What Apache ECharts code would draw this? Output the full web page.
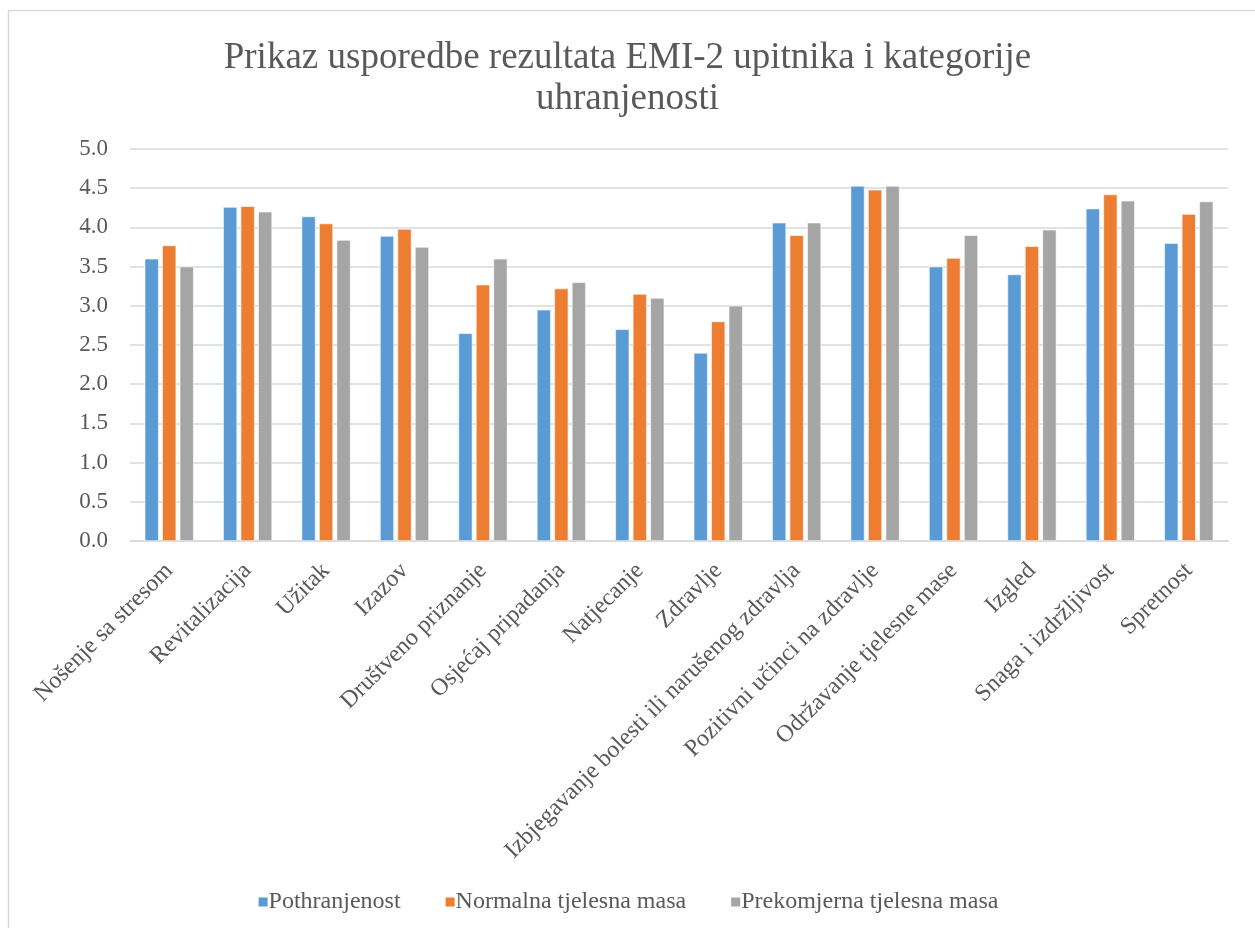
<!DOCTYPE html>
<html>
<head>
<meta charset="utf-8">
<script src="https://cdn.jsdelivr.net/npm/echarts@6/dist/echarts.min.js"></script>
<style>
html,body{margin:0;padding:0;background:#fff;}
#c{width:1255px;height:928px;}
</style>
</head>
<body>
<div id="c"></div>
<script>
const titleText = 'Prikaz usporedbe rezultata EMI-2 upitnika i kategorije\nuhranjenosti';
const categories = ['Nošenje sa stresom','Revitalizacija','Užitak','Izazov','Društveno priznanje','Osjećaj pripadanja','Natjecanje','Zdravlje','Izbjegavanje bolesti ili narušenog zdravlja','Pozitivni učinci na zdravlje','Održavanje tjelesne mase','Izgled','Snaga i izdržljivost','Spretnost'];
const seriesNames = ['Pothranjenost','Normalna tjelesna masa','Prekomjerna tjelesna masa'];
const pothranjenost = [3.6, 4.26, 4.14, 3.89, 2.65, 2.95, 2.7, 2.4, 4.06, 4.53, 3.5, 3.4, 4.24, 3.8];
const normalna = [3.77, 4.27, 4.05, 3.98, 3.27, 3.22, 3.15, 2.8, 3.9, 4.48, 3.61, 3.76, 4.42, 4.17];
const prekomjerna = [3.5, 4.2, 3.84, 3.75, 3.6, 3.3, 3.1, 3.0, 4.06, 4.53, 3.9, 3.97, 4.34, 4.33];
const colors = ['#5b9bd5','#ed7d31','#a5a5a5'];
const font = '"Liberation Serif", "Times New Roman", serif';

const chart = echarts.init(document.getElementById('c'), null, {renderer:'canvas'});
const mk = (name, data, i) => ({
  name, type:'bar', data, barWidth:14, barGap:'25%',
  itemStyle:{color:colors[i], borderColor:'#ffffff', borderWidth:0.6}
});
chart.setOption({
  animation:false,
  color:colors,
  graphic:[{type:'rect', shape:{x:8.5,y:10.5,width:1260,height:930}, style:{fill:'none', stroke:'#d9d9d9', lineWidth:1.5}, z:-1}],
  title:{text:titleText, left:'center', top:33, textStyle:{fontFamily:font, fontSize:37, fontWeight:'normal', color:'#595959', lineHeight:41}},
  legend:{data:seriesNames, top:885, left:'center', icon:'rect', itemWidth:11, itemHeight:11, itemGap:43,
    textStyle:{fontFamily:font, fontSize:24, color:'#595959', padding:[0,0,0,-5]}},
  grid:{left:130, right:27, top:149, bottom:387, containLabel:false},
  xAxis:{type:'category', data:categories,
    axisLine:{lineStyle:{color:'#d9d9d9', width:1.5}}, axisTick:{show:false},
    axisLabel:{rotate:45, interval:0, margin:26, fontFamily:font, fontSize:24, color:'#595959'}},
  yAxis:{type:'value', min:0, max:5, interval:0.5,
    axisLine:{show:false}, axisTick:{show:false},
    splitLine:{lineStyle:{color:'#d9d9d9', width:1.5}},
    axisLabel:{formatter:v=>v.toFixed(1), margin:22, fontFamily:font, fontSize:23, color:'#595959'}},
  series:[mk(seriesNames[0], pothranjenost, 0), mk(seriesNames[1], normalna, 1), mk(seriesNames[2], prekomjerna, 2)]
});
</script>
</body>
</html>
